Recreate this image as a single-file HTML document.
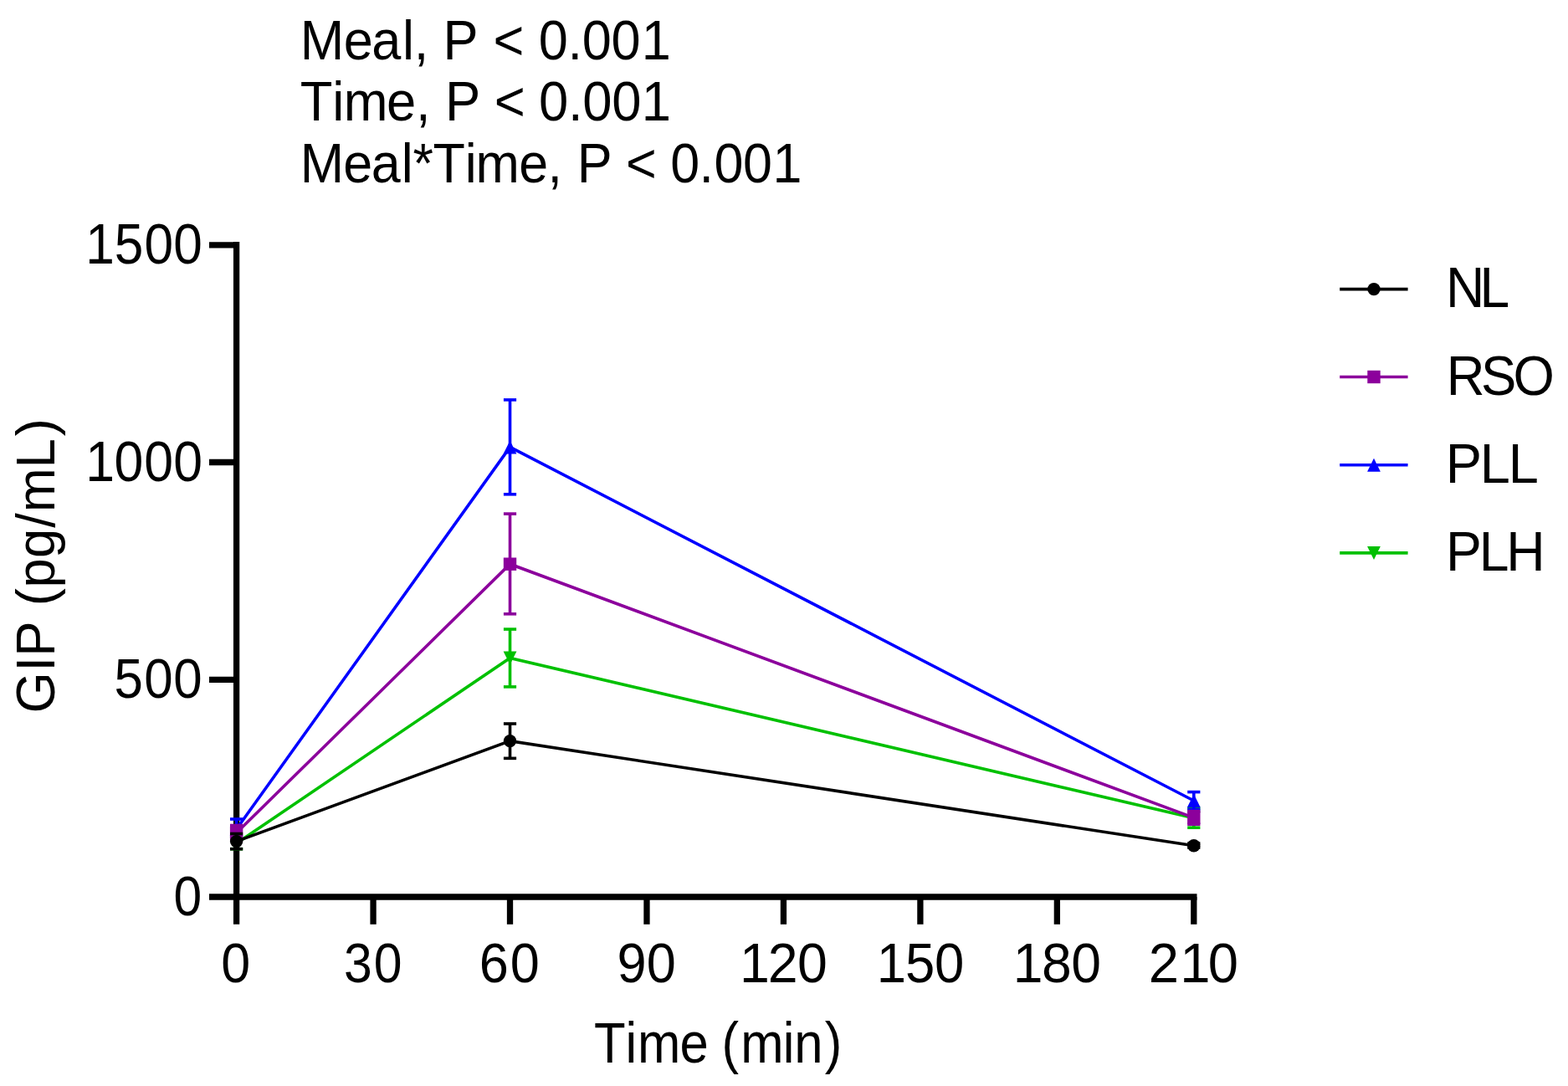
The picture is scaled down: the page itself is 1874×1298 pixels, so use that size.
<!DOCTYPE html>
<html><head><meta charset="utf-8"><title>GIP chart</title>
<style>
html,body{margin:0;padding:0;background:#fff;}
body{width:1874px;height:1298px;overflow:hidden;}
svg{display:block;}
#wrap{width:1874px;height:1298px;}
.t{font-family:"Liberation Sans",Arial,sans-serif;font-size:100px;fill:#000;}
</style></head>
<body>
<div id="wrap">
<svg width="1874" height="1298" viewBox="0 0 1874 1298">
<rect x="0" y="0" width="1874" height="1298" fill="#fff"/>
<line x1="282.6" y1="289" x2="282.6" y2="1104.8" stroke="#000" stroke-width="7.3"/>
<line x1="250" y1="1072" x2="1430.5" y2="1072" stroke="#000" stroke-width="7.3"/>
<line x1="250" y1="292.8" x2="282.6" y2="292.8" stroke="#000" stroke-width="7.3"/>
<line x1="250" y1="552.5" x2="282.6" y2="552.5" stroke="#000" stroke-width="7.3"/>
<line x1="250" y1="812.3" x2="282.6" y2="812.3" stroke="#000" stroke-width="7.3"/>
<line x1="446.06" y1="1072" x2="446.06" y2="1104.8" stroke="#000" stroke-width="7.3"/>
<line x1="609.51" y1="1072" x2="609.51" y2="1104.8" stroke="#000" stroke-width="7.3"/>
<line x1="772.97" y1="1072" x2="772.97" y2="1104.8" stroke="#000" stroke-width="7.3"/>
<line x1="936.43" y1="1072" x2="936.43" y2="1104.8" stroke="#000" stroke-width="7.3"/>
<line x1="1099.89" y1="1072" x2="1099.89" y2="1104.8" stroke="#000" stroke-width="7.3"/>
<line x1="1263.34" y1="1072" x2="1263.34" y2="1104.8" stroke="#000" stroke-width="7.3"/>
<line x1="1426.80" y1="1072" x2="1426.80" y2="1104.8" stroke="#000" stroke-width="7.3"/>
<polyline points="282.60,1008.00 609.51,786.50 1426.80,977.80" fill="none" stroke="#00c000" stroke-width="3.6" stroke-linejoin="miter"/>
<line x1="282.60" y1="1001.00" x2="282.60" y2="1014.70" stroke="#00c000" stroke-width="3.6"/>
<line x1="275.00" y1="1001.00" x2="290.20" y2="1001.00" stroke="#00c000" stroke-width="3.6"/>
<line x1="275.00" y1="1014.70" x2="290.20" y2="1014.70" stroke="#00c000" stroke-width="3.6"/>
<polygon points="282.60,1016.00 290.50,1000.00 274.70,1000.00" fill="#00c000"/>
<line x1="609.51" y1="752.05" x2="609.51" y2="820.90" stroke="#00c000" stroke-width="3.6"/>
<line x1="601.91" y1="752.05" x2="617.11" y2="752.05" stroke="#00c000" stroke-width="3.6"/>
<line x1="601.91" y1="820.90" x2="617.11" y2="820.90" stroke="#00c000" stroke-width="3.6"/>
<polygon points="609.51,794.50 617.41,778.50 601.61,778.50" fill="#00c000"/>
<line x1="1426.80" y1="966.00" x2="1426.80" y2="989.20" stroke="#00c000" stroke-width="3.6"/>
<line x1="1419.20" y1="966.00" x2="1434.40" y2="966.00" stroke="#00c000" stroke-width="3.6"/>
<line x1="1419.20" y1="989.20" x2="1434.40" y2="989.20" stroke="#00c000" stroke-width="3.6"/>
<polygon points="1426.80,985.80 1434.70,969.80 1418.90,969.80" fill="#00c000"/>
<polyline points="282.60,991.00 609.51,534.40 1426.80,957.00" fill="none" stroke="#0000ff" stroke-width="3.6" stroke-linejoin="miter"/>
<line x1="282.60" y1="979.00" x2="282.60" y2="1003.00" stroke="#0000ff" stroke-width="3.6"/>
<line x1="275.00" y1="979.00" x2="290.20" y2="979.00" stroke="#0000ff" stroke-width="3.6"/>
<line x1="275.00" y1="1003.00" x2="290.20" y2="1003.00" stroke="#0000ff" stroke-width="3.6"/>
<polygon points="282.60,983.00 290.50,999.00 274.70,999.00" fill="#0000ff"/>
<line x1="609.51" y1="477.90" x2="609.51" y2="590.80" stroke="#0000ff" stroke-width="3.6"/>
<line x1="601.91" y1="477.90" x2="617.11" y2="477.90" stroke="#0000ff" stroke-width="3.6"/>
<line x1="601.91" y1="590.80" x2="617.11" y2="590.80" stroke="#0000ff" stroke-width="3.6"/>
<polygon points="609.51,526.40 617.41,542.40 601.61,542.40" fill="#0000ff"/>
<line x1="1426.80" y1="946.60" x2="1426.80" y2="967.40" stroke="#0000ff" stroke-width="3.6"/>
<line x1="1419.20" y1="946.60" x2="1434.40" y2="946.60" stroke="#0000ff" stroke-width="3.6"/>
<line x1="1419.20" y1="967.40" x2="1434.40" y2="967.40" stroke="#0000ff" stroke-width="3.6"/>
<polygon points="1426.80,949.00 1434.70,965.00 1418.90,965.00" fill="#0000ff"/>
<polyline points="282.60,995.50 609.51,674.20 1426.80,977.40" fill="none" stroke="#8c009c" stroke-width="3.6" stroke-linejoin="miter"/>
<line x1="282.60" y1="986.50" x2="282.60" y2="1004.50" stroke="#8c009c" stroke-width="3.6"/>
<line x1="275.00" y1="986.50" x2="290.20" y2="986.50" stroke="#8c009c" stroke-width="3.6"/>
<line x1="275.00" y1="1004.50" x2="290.20" y2="1004.50" stroke="#8c009c" stroke-width="3.6"/>
<rect x="274.90" y="987.80" width="15.40" height="15.40" fill="#8c009c"/>
<line x1="609.51" y1="614.10" x2="609.51" y2="733.80" stroke="#8c009c" stroke-width="3.6"/>
<line x1="601.91" y1="614.10" x2="617.11" y2="614.10" stroke="#8c009c" stroke-width="3.6"/>
<line x1="601.91" y1="733.80" x2="617.11" y2="733.80" stroke="#8c009c" stroke-width="3.6"/>
<rect x="601.81" y="666.50" width="15.40" height="15.40" fill="#8c009c"/>
<line x1="1426.80" y1="969.60" x2="1426.80" y2="985.20" stroke="#8c009c" stroke-width="3.6"/>
<line x1="1419.20" y1="969.60" x2="1434.40" y2="969.60" stroke="#8c009c" stroke-width="3.6"/>
<line x1="1419.20" y1="985.20" x2="1434.40" y2="985.20" stroke="#8c009c" stroke-width="3.6"/>
<rect x="1419.10" y="969.70" width="15.40" height="15.40" fill="#8c009c"/>
<polyline points="282.60,1005.60 609.51,885.60 1426.80,1010.80" fill="none" stroke="#000000" stroke-width="3.6" stroke-linejoin="miter"/>
<line x1="282.60" y1="996.50" x2="282.60" y2="1014.70" stroke="#000000" stroke-width="3.6"/>
<line x1="275.00" y1="996.50" x2="290.20" y2="996.50" stroke="#000000" stroke-width="3.6"/>
<line x1="275.00" y1="1014.70" x2="290.20" y2="1014.70" stroke="#000000" stroke-width="3.6"/>
<circle cx="282.60" cy="1005.60" r="7.70" fill="#000000"/>
<line x1="609.51" y1="865.00" x2="609.51" y2="906.35" stroke="#000000" stroke-width="3.6"/>
<line x1="601.91" y1="865.00" x2="617.11" y2="865.00" stroke="#000000" stroke-width="3.6"/>
<line x1="601.91" y1="906.35" x2="617.11" y2="906.35" stroke="#000000" stroke-width="3.6"/>
<circle cx="609.51" cy="885.60" r="7.70" fill="#000000"/>
<line x1="1426.80" y1="1008.00" x2="1426.80" y2="1013.00" stroke="#000000" stroke-width="3.6"/>
<line x1="1419.20" y1="1008.00" x2="1434.40" y2="1008.00" stroke="#000000" stroke-width="3.6"/>
<line x1="1419.20" y1="1013.00" x2="1434.40" y2="1013.00" stroke="#000000" stroke-width="3.6"/>
<circle cx="1426.80" cy="1010.80" r="7.70" fill="#000000"/>
<line x1="1601.2" y1="345.6" x2="1682.6" y2="345.6" stroke="#000000" stroke-width="3.6"/>
<circle cx="1642.00" cy="345.60" r="7.70" fill="#000000"/>
<line x1="1601.2" y1="450.5" x2="1682.6" y2="450.5" stroke="#8c009c" stroke-width="3.6"/>
<rect x="1634.30" y="442.80" width="15.40" height="15.40" fill="#8c009c"/>
<line x1="1601.2" y1="555.7" x2="1682.6" y2="555.7" stroke="#0000ff" stroke-width="3.6"/>
<polygon points="1642.00,547.70 1649.90,563.70 1634.10,563.70" fill="#0000ff"/>
<line x1="1601.2" y1="660.9" x2="1682.6" y2="660.9" stroke="#00c000" stroke-width="3.6"/>
<polygon points="1642.00,668.90 1649.90,652.90 1634.10,652.90" fill="#00c000"/>
<text transform="matrix(0.63070,0,0,0.67055,0,70.50)" x="568.81 651.18 704.23 762.62 784.60 812.38 839.71 906.40 934.75 993.15 1020.88 1075.74 1103.24 1158.42 1215.92" y="0" class="t">Meal, P &lt; 0.001</text>
<text transform="matrix(0.63355,0,0,0.66764,0,144.10)" x="566.30 626.87 648.41 729.26 784.33 812.12 839.57 906.27 932.32 990.72 1016.64 1071.79 1099.12 1154.04 1210.36" y="0" class="t">Time, P &lt; 0.001</text>
<text transform="matrix(0.62845,0,0,0.67055,0,218.30)" x="570.84 652.98 705.99 763.48 785.18 823.35 884.26 904.47 986.98 1041.43 1069.21 1097.44 1164.14 1190.43 1248.82 1274.86 1329.31 1358.01 1412.98 1469.71" y="0" class="t">Meal*Time, P &lt; 0.001</text>
<text transform="matrix(0.62209,0,0,0.67782,0,314.60)" x="164.48 219.88 277.39 333.33" y="0" class="t">1500</text>
<text transform="matrix(0.62593,0,0,0.67782,0,574.60)" x="163.33 217.92 275.19 331.11" y="0" class="t">1000</text>
<text transform="matrix(0.61818,0,0,0.67055,0,834.30)" x="220.80 278.75 335.12" y="0" class="t">500</text>
<text transform="matrix(0.60524,0,0,0.67491,0,1094.00)" x="342.81" y="0" class="t">0</text>
<text transform="matrix(0.62827,0,0,0.67055,0,1173.90)" x="420.66" y="0" class="t">0</text>
<text transform="matrix(0.60682,0,0,0.67055,0,1173.90)" x="677.32 736.10" y="0" class="t">30</text>
<text transform="matrix(0.63085,0,0,0.67055,0,1173.90)" x="907.75 966.42" y="0" class="t">60</text>
<text transform="matrix(0.63085,0,0,0.67055,0,1173.90)" x="1169.24 1225.11" y="0" class="t">90</text>
<text transform="matrix(0.64459,0,0,0.67055,0,1173.90)" x="1371.31 1423.65 1478.44" y="0" class="t">120</text>
<text transform="matrix(0.63466,0,0,0.67055,0,1173.90)" x="1650.73 1704.76 1759.87" y="0" class="t">150</text>
<text transform="matrix(0.64235,0,0,0.67055,0,1173.90)" x="1885.08 1938.16 1993.07" y="0" class="t">180</text>
<text transform="matrix(0.65223,0,0,0.67055,0,1173.90)" x="2104.86 2162.14 2213.44" y="0" class="t">210</text>
<text transform="matrix(0.61644,0,0,0.67782,0,1270.40)" x="1151.60 1212.42 1236.06 1317.95 1373.57 1399.16 1436.08 1518.05 1539.91 1598.92" y="0" class="t">Time (min)</text>
<text transform="matrix(0.64160,0,0,0.67636,0,366.50)" x="2693.13 2756.52" y="0" class="t">NL</text>
<text transform="matrix(0.63459,0,0,0.67491,0,471.70)" x="2724.12 2789.10 2849.90" y="0" class="t">RSO</text>
<text transform="matrix(0.64920,0,0,0.67200,0,576.60)" x="2661.51 2724.59 2777.04" y="0" class="t">PLL</text>
<text transform="matrix(0.64314,0,0,0.67055,0,681.80)" x="2686.94 2748.78 2799.35" y="0" class="t">PLH</text>
<text transform="matrix(0,-0.63422,0.65309,0,64.50,0)" x="-1344.03 -1265.48 -1237.45 -1170.75 -1141.77 -1107.56 -1051.86 -994.60 -965.32 -882.24 -822.03" y="0" class="t">GIP (pg/mL)</text>
</svg>
</div>
</body></html>
